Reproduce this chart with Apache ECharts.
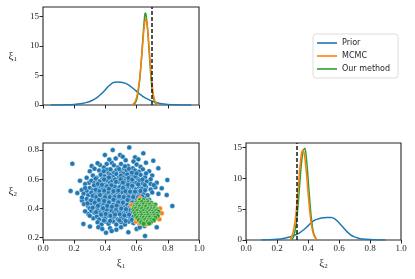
<!DOCTYPE html>
<html><head><meta charset="utf-8">
<script src="https://cdn.jsdelivr.net/npm/echarts@6/dist/echarts.min.js"></script>
<style>html,body{margin:0;padding:0;background:#fff}#c{width:415px;height:279px}</style>
</head><body><div id="c"></div>
<script>
// ---- density curves: xi1 ----
const priorXi1X = [0.05,0.1,0.15,0.2,0.225,0.25,0.275,0.3,0.325,0.35,0.375,0.4,0.425,0.45,0.475,0.5,0.525,0.55,0.575,0.6,0.625,0.65,0.675,0.7,0.725,0.75,0.775,0.8,0.85,0.9,0.95];
const priorXi1Y = [0,0.01,0.03,0.08,0.15,0.25,0.4,0.6,0.9,1.35,1.9,2.6,3.3,3.8,3.9,3.85,3.7,3.35,2.85,2.3,1.75,1.3,0.95,0.65,0.42,0.26,0.15,0.08,0.03,0.01,0];
const mcmcXi1X = [0.57,0.58,0.59,0.6,0.61,0.62,0.63,0.64,0.65,0.66,0.67,0.68,0.69,0.7,0.71,0.72,0.73,0.74];
const mcmcXi1Y = [0,0.2,0.6,1.3,2.6,4.6,7.4,10.6,13.5,14.6,13.0,9.8,6.2,3.3,1.4,0.5,0.12,0];
const oursXi1X = [0.58,0.59,0.6,0.61,0.62,0.63,0.64,0.65,0.655,0.66,0.67,0.68,0.69,0.7,0.71,0.72,0.73];
const oursXi1Y = [0,0.3,0.9,2.2,4.3,7.4,11.2,14.6,15.6,15.4,13.0,9.2,5.4,2.6,1.0,0.3,0];
// ---- density curves: xi2 ----
const priorXi2X = [0.1,0.15,0.2,0.25,0.275,0.3,0.325,0.35,0.375,0.4,0.425,0.45,0.475,0.5,0.525,0.55,0.575,0.6,0.625,0.65,0.675,0.7,0.725,0.75,0.8,0.85,0.9];
const priorXi2Y = [0,0.03,0.12,0.3,0.45,0.65,0.9,1.25,1.7,2.3,2.9,3.3,3.5,3.6,3.65,3.65,3.4,2.8,2.1,1.4,0.85,0.5,0.3,0.18,0.07,0.02,0];
const mcmcXi2X = [0.28,0.29,0.3,0.31,0.32,0.33,0.34,0.35,0.36,0.37,0.38,0.39,0.4,0.41,0.42,0.43,0.44,0.45,0.46];
const mcmcXi2Y = [0,0.3,0.9,2.0,3.8,6.4,9.5,12.4,14.3,14.6,13.3,10.8,7.8,5.0,2.8,1.4,0.6,0.2,0];
const oursXi2X = [0.29,0.3,0.31,0.32,0.33,0.34,0.35,0.36,0.37,0.38,0.39,0.4,0.41,0.42,0.43,0.44,0.45,0.46];
const oursXi2Y = [0,0.2,0.8,2.0,4.0,6.9,10.2,13.0,14.6,14.9,13.2,10.2,6.8,3.9,1.9,0.8,0.3,0];
// ---- true values ----
const trueXi1 = 0.703;
const trueXi2 = 0.33;
// ---- scatter samples ----
const priorPts = [
[0.447,0.80],[0.553,0.818],[0.494,0.766],[0.397,0.766],[0.643,0.777],
[0.511,0.754],[0.59,0.75],[0.611,0.736],[0.707,0.727],[0.44,0.713],[0.408,0.704],[0.365,0.697],[0.466,0.742],[0.53,0.73],[0.58,0.722],[0.425,0.735],
[0.188,0.706],[0.312,0.69],[0.66,0.713],[0.35,0.71],[0.39,0.68],[0.455,0.695],[0.5,0.705],[0.545,0.69],[0.6,0.7],[0.625,0.685],[0.48,0.68],[0.52,0.672],[0.575,0.675],[0.33,0.672],
[0.739,0.675],[0.36,0.66],[0.41,0.665],[0.44,0.655],[0.47,0.662],[0.5,0.65],[0.535,0.66],[0.56,0.648],[0.59,0.66],[0.615,0.652],[0.64,0.668],[0.68,0.655],[0.38,0.645],[0.42,0.64],[0.455,0.642],[0.515,0.638],[0.3,0.655],[0.55,0.672],
[0.32,0.625],[0.345,0.61],[0.37,0.63],[0.395,0.62],[0.41,0.605],[0.43,0.628],[0.45,0.615],[0.47,0.635],[0.485,0.61],[0.5,0.625],[0.52,0.612],[0.54,0.632],[0.56,0.615],[0.58,0.628],[0.6,0.61],[0.625,0.63],[0.655,0.615],[0.7,0.625],[0.28,0.61],[0.44,0.6],[0.53,0.602],[0.38,0.6],[0.61,0.6],
[0.237,0.59],[0.295,0.576],[0.27,0.567],[0.797,0.595],[0.729,0.576],[0.31,0.59],[0.33,0.575],[0.35,0.592],[0.365,0.57],[0.385,0.585],[0.4,0.565],[0.415,0.59],[0.43,0.575],[0.445,0.588],[0.46,0.568],[0.475,0.592],[0.49,0.58],[0.505,0.565],[0.52,0.59],[0.535,0.575],[0.55,0.588],[0.565,0.568],[0.58,0.582],[0.6,0.575],[0.62,0.59],[0.64,0.57],[0.665,0.585],[0.69,0.568],[0.45,0.56],[0.395,0.56],
[0.248,0.526],[0.177,0.52],[0.761,0.538],[0.3,0.54],[0.32,0.525],[0.34,0.548],[0.355,0.53],[0.37,0.552],[0.385,0.535],[0.4,0.548],[0.415,0.528],[0.43,0.545],[0.445,0.532],[0.46,0.55],[0.475,0.528],[0.49,0.545],[0.505,0.53],[0.52,0.552],[0.535,0.535],[0.55,0.548],[0.565,0.528],[0.58,0.545],[0.595,0.53],[0.615,0.55],[0.635,0.535],[0.66,0.548],[0.69,0.53],[0.72,0.545],[0.28,0.52],
[0.26,0.5],[0.29,0.49],[0.31,0.508],[0.33,0.495],[0.345,0.515],[0.36,0.5],[0.375,0.485],[0.39,0.51],[0.405,0.495],[0.42,0.512],[0.435,0.49],[0.45,0.505],[0.465,0.488],[0.48,0.51],[0.495,0.495],[0.51,0.512],[0.525,0.49],[0.54,0.505],[0.555,0.488],[0.57,0.51],[0.585,0.495],[0.6,0.512],[0.62,0.49],[0.645,0.505],[0.67,0.49],[0.7,0.51],[0.793,0.492],[0.74,0.5],[0.22,0.505],
[0.28,0.465],[0.3,0.45],[0.32,0.47],[0.34,0.455],[0.355,0.475],[0.37,0.445],[0.385,0.465],[0.4,0.45],[0.415,0.472],[0.43,0.455],[0.445,0.47],[0.46,0.448],[0.475,0.465],[0.49,0.45],[0.505,0.472],[0.52,0.455],[0.535,0.47],[0.55,0.448],[0.565,0.465],[0.58,0.452],[0.6,0.47],[0.62,0.455],[0.65,0.47],[0.68,0.46],[0.25,0.455],
[0.263,0.43],[0.29,0.415],[0.31,0.435],[0.33,0.42],[0.345,0.405],[0.36,0.43],[0.375,0.415],[0.39,0.435],[0.405,0.41],[0.42,0.428],[0.435,0.405],[0.45,0.425],[0.465,0.41],[0.48,0.435],[0.495,0.415],[0.51,0.43],[0.525,0.408],[0.54,0.425],[0.555,0.41],[0.57,0.432],[0.829,0.417],[0.3,0.4],
[0.291,0.362],[0.31,0.385],[0.33,0.37],[0.35,0.39],[0.365,0.372],[0.38,0.395],[0.395,0.375],[0.41,0.39],[0.425,0.365],[0.44,0.385],[0.455,0.37],[0.47,0.392],[0.485,0.375],[0.5,0.388],[0.515,0.365],[0.53,0.38],[0.545,0.37],[0.56,0.39],[0.575,0.375],[0.27,0.38],
[0.323,0.333],[0.345,0.345],[0.36,0.325],[0.38,0.35],[0.4,0.335],[0.42,0.352],[0.44,0.33],[0.46,0.345],[0.48,0.325],[0.5,0.34],[0.52,0.328],[0.54,0.35],[0.56,0.335],[0.58,0.345],[0.3,0.35],
[0.259,0.294],[0.35,0.305],[0.375,0.29],[0.4,0.31],[0.42,0.295],[0.45,0.31],[0.47,0.29],[0.5,0.305],[0.525,0.29],[0.55,0.31],[0.58,0.3],[0.62,0.29],[0.64,0.31],[0.729,0.271],[0.65,0.28],
[0.301,0.276],[0.355,0.271],[0.404,0.234],[0.547,0.237],[0.654,0.212],[0.43,0.265],[0.47,0.255],[0.5,0.272],[0.6,0.26],[0.62,0.27],[0.38,0.26],[0.44,0.245],
// extra core samples
[0.337,0.605],[0.362,0.585],[0.392,0.598],[0.423,0.612],[0.462,0.598],[0.498,0.6],[0.548,0.608],[0.572,0.598],[0.592,0.62],[0.637,0.598],
[0.327,0.558],[0.352,0.568],[0.378,0.562],[0.41,0.552],[0.438,0.558],[0.468,0.582],[0.512,0.578],[0.545,0.562],[0.572,0.555],[0.61,0.565],[0.652,0.56],
[0.338,0.528],[0.362,0.518],[0.392,0.522],[0.422,0.535],[0.452,0.518],[0.483,0.522],[0.513,0.54],[0.528,0.518],[0.558,0.515],[0.59,0.515],[0.625,0.52],[0.655,0.525],
[0.318,0.485],[0.342,0.478],[0.365,0.492],[0.398,0.478],[0.428,0.478],[0.458,0.478],[0.488,0.482],[0.518,0.478],[0.548,0.478],[0.578,0.478],[0.61,0.478],[0.635,0.482],
[0.308,0.455],[0.332,0.44],[0.358,0.458],[0.392,0.452],[0.422,0.442],[0.452,0.46],[0.482,0.442],[0.512,0.44],[0.542,0.458],[0.572,0.44],
[0.318,0.405],[0.352,0.418],[0.385,0.402],[0.412,0.418],[0.442,0.412],[0.472,0.42],[0.502,0.4],[0.532,0.395],[0.562,0.42],
[0.34,0.375],[0.372,0.358],[0.402,0.362],[0.432,0.35],[0.462,0.358],[0.492,0.36],[0.522,0.352],[0.552,0.358],
[0.39,0.318],[0.43,0.315],[0.49,0.318],[0.53,0.315],[0.57,0.322],
[0.39,0.655],[0.432,0.668],[0.488,0.67],[0.525,0.688],[0.57,0.645],[0.6,0.64],[0.66,0.64],[0.69,0.6],[0.71,0.56],[0.27,0.54],[0.25,0.475],[0.285,0.435]
];
const mcmcPts = [
[0.622,0.47],[0.761,0.367],[0.746,0.326],[0.622,0.299],[0.66,0.292],[0.568,0.424],[0.596,0.31],
[0.58,0.4],[0.6,0.44],[0.63,0.45],[0.68,0.44],[0.7,0.42],[0.72,0.38],[0.735,0.35],[0.71,0.32],[0.69,0.31],[0.64,0.32],[0.61,0.34],[0.59,0.37],[0.65,0.4],[0.67,0.36],[0.7,0.395],[0.62,0.38],[0.66,0.43],[0.75,0.4],[0.6,0.33],[0.68,0.33]
];
const oursPts = [
[0.62,0.456],[0.645,0.458],[0.67,0.452],
[0.6,0.441],[0.615,0.438],[0.635,0.444],[0.655,0.439],[0.675,0.442],[0.695,0.437],
[0.59,0.424],[0.605,0.427],[0.625,0.422],[0.645,0.428],[0.665,0.423],[0.685,0.426],[0.705,0.421],[0.72,0.425],
[0.585,0.41],[0.6,0.408],[0.62,0.413],[0.64,0.409],[0.66,0.412],[0.68,0.407],[0.7,0.411],[0.715,0.408],
[0.58,0.395],[0.595,0.398],[0.615,0.393],[0.635,0.397],[0.655,0.392],[0.675,0.396],[0.695,0.394],[0.715,0.397],[0.73,0.392],
[0.585,0.38],[0.605,0.383],[0.625,0.378],[0.645,0.382],[0.665,0.377],[0.685,0.381],[0.705,0.379],[0.725,0.383],[0.74,0.378],
[0.59,0.366],[0.61,0.363],[0.63,0.368],[0.65,0.364],[0.67,0.367],[0.69,0.362],[0.71,0.366],[0.73,0.364],
[0.595,0.351],[0.615,0.348],[0.635,0.353],[0.655,0.349],[0.675,0.352],[0.695,0.347],[0.715,0.351],[0.735,0.349],
[0.605,0.336],[0.625,0.333],[0.645,0.337],[0.665,0.334],[0.685,0.338],[0.705,0.333],[0.72,0.336],
[0.615,0.321],[0.635,0.318],[0.655,0.322],[0.675,0.319],[0.695,0.323],[0.71,0.32],
[0.63,0.306],[0.65,0.304],[0.67,0.307],[0.69,0.305],
[0.645,0.295],[0.68,0.297]
];
// ---- ticks ----
const xTicks = [0,0.2,0.4,0.6,0.8,1.0];
const densTicks = [0,5,10,15];
const xi2Ticks = [0.2,0.4,0.6,0.8];

const C_BLUE = '#1f77b4', C_ORANGE = '#ff7f0e', C_GREEN = '#2ca02c';
const INK = '#262626';
const FONT = 'Liberation Serif';
const zip = (a, b) => a.map((v, i) => [v, b[i]]);

function xAx(gi, labels, name) {
  return {
    type: 'value', gridIndex: gi, min: 0, max: 1,
    axisLine: { show: false },
    axisTick: { show: true, length: 3.5, lineStyle: { color: INK, width: 1 }, customValues: xTicks },
    axisLabel: { show: labels, customValues: xTicks, formatter: v => v.toFixed(1), color: INK, fontFamily: FONT, fontSize: 9, margin: 4 },
    splitLine: { show: false },
    name: name || '', nameLocation: 'middle', nameGap: 17,
    nameTextStyle: { color: INK, fontFamily: FONT, fontSize: 11, rich: { s: { fontSize: 7, padding: [6, 0, 0, 0], fontFamily: FONT, color: INK } } }
  };
}
function yAx(gi, min, max, ticks, fmt, name, gap) {
  return {
    type: 'value', gridIndex: gi, min: min, max: max,
    axisLine: { show: false },
    axisTick: { show: true, length: 3.5, lineStyle: { color: INK, width: 1 }, customValues: ticks },
    axisLabel: { customValues: ticks, formatter: fmt, color: INK, fontFamily: FONT, fontSize: 9, margin: 4 },
    splitLine: { show: false },
    name: name || '', nameLocation: 'middle', nameRotate: 0, nameGap: gap || 26,
    nameTextStyle: { color: INK, fontFamily: FONT, fontSize: 11, rich: { s: { fontSize: 7, padding: [6, 0, 0, 0], fontFamily: FONT, color: INK } } }
  };
}
const lineS = (name, color, data, xi, yi, extra) => Object.assign({
  name: name, type: 'line', xAxisIndex: xi, yAxisIndex: yi, data: data,
  showSymbol: false, symbol: 'none', smooth: 0.3,
  lineStyle: { color: color, width: 1.5 }, itemStyle: { color: color }
}, extra || {});
const dash = v => ({ silent: true, symbol: 'none', label: { show: false },
  lineStyle: { color: '#1a1a1a', type: [4, 2], width: 1.5 }, data: [{ xAxis: v }] });
const scat = (name, color, data) => ({
  name: name, type: 'scatter', xAxisIndex: 1, yAxisIndex: 1, data: data,
  symbolSize: 5, itemStyle: { color: color, borderColor: '#fff', borderWidth: 0.4, opacity: 1 }
});

const grid = { show: true, borderColor: INK, borderWidth: 1.1, backgroundColor: 'transparent' };
const option = {
  animation: false,
  grid: [
    Object.assign({ left: 43, top: 7, width: 156, height: 98 }, grid),
    Object.assign({ left: 43, top: 143, width: 156, height: 97 }, grid),
    Object.assign({ left: 246, top: 143, width: 155, height: 97 }, grid)
  ],
  xAxis: [ xAx(0, false), xAx(1, true, '{a|ξ}{s|1}'), xAx(2, true, '{a|ξ}{s|2}') ],
  yAxis: [
    yAx(0, 0, 16.6, densTicks, v => String(v), '{a|ξ}{s|1}', 26),
    yAx(1, 0.184, 0.848, xi2Ticks, v => v.toFixed(1), '{a|ξ}{s|2}', 26),
    yAx(2, 0, 15.76, densTicks, v => String(v))
  ],
  legend: {
    orient: 'vertical', left: 313, top: 34,
    backgroundColor: '#fff', borderColor: '#d4d4d4', borderWidth: 0.8, borderRadius: 3,
    padding: [5, 8, 5, 4], itemGap: 5, itemWidth: 20, itemHeight: 1.6, icon: 'rect',
    textStyle: { fontFamily: 'DejaVu Sans', fontSize: 8, color: INK },
    data: [
      { name: 'Prior', itemStyle: { color: C_BLUE } },
      { name: 'MCMC', itemStyle: { color: C_ORANGE } },
      { name: 'Our method', itemStyle: { color: C_GREEN } }
    ]
  },
  series: [
    lineS('Prior', C_BLUE, zip(priorXi1X, priorXi1Y), 0, 0),
    lineS('Our method', C_GREEN, zip(oursXi1X, oursXi1Y), 0, 0),
    lineS('MCMC', C_ORANGE, zip(mcmcXi1X, mcmcXi1Y), 0, 0, { markLine: dash(trueXi1) }),
    lineS('Prior', C_BLUE, zip(priorXi2X, priorXi2Y), 2, 2),
    lineS('Our method', C_GREEN, zip(oursXi2X, oursXi2Y), 2, 2),
    lineS('MCMC', C_ORANGE, zip(mcmcXi2X, mcmcXi2Y), 2, 2, { markLine: dash(trueXi2) }),
    scat('Prior', C_BLUE, priorPts),
    scat('MCMC', C_ORANGE, mcmcPts),
    scat('Our method', C_GREEN, oursPts)
  ]
};
const chart = echarts.init(document.getElementById('c'), null, { renderer: 'canvas' });
chart.setOption(option);
</script></body></html>
